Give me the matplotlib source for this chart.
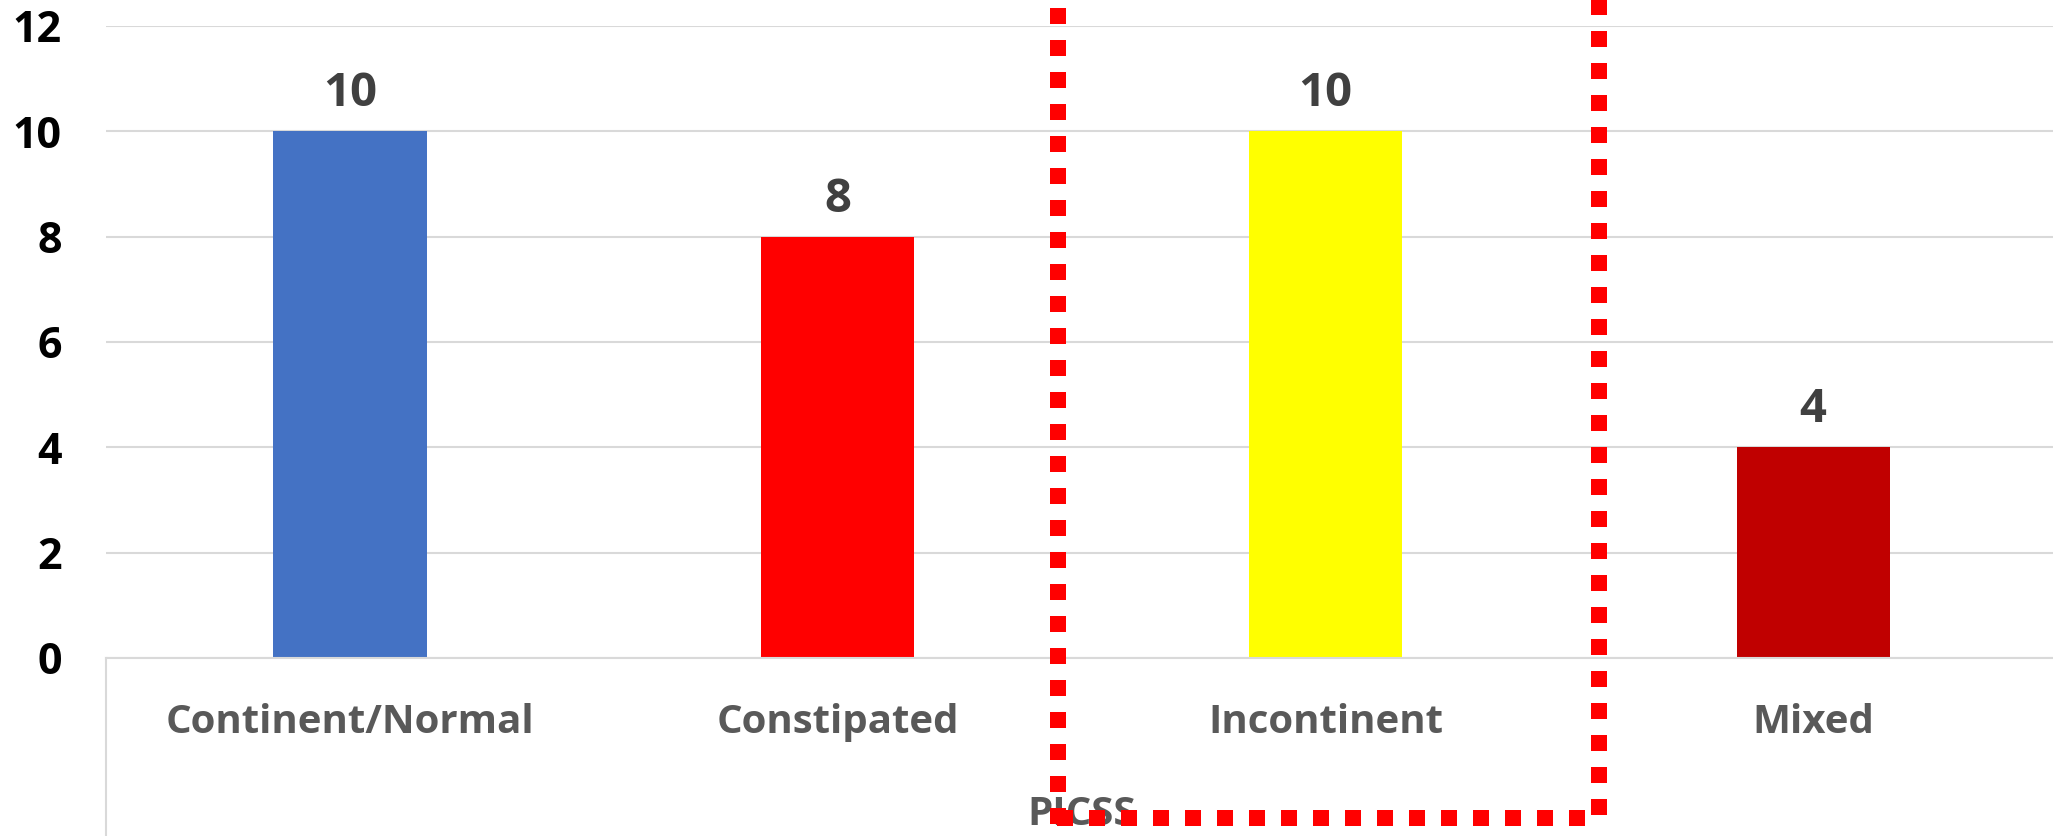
import matplotlib
matplotlib.use("Agg")
import matplotlib.pyplot as plt
from matplotlib.lines import Line2D
from matplotlib.transforms import blended_transform_factory

# Stool pattern counts by PICSS category
categories = ["Continent/Normal", "Constipated", "Incontinent", "Mixed"]
counts = [10, 8, 10, 4]
bar_colors = ["#4472C4", "#FF0000", "#FFFF00", "#C00000"]
y_ticks = [0, 2, 4, 6, 8, 10, 12]
x_title = "PICSS"

FONT = "Open Sans"
W, H, DPI = 2053, 836, 100

plt.rcParams["font.family"] = [FONT, "DejaVu Sans"]
plt.rcParams["lines.scale_dashes"] = False

fig = plt.figure(figsize=(W / DPI, H / DPI), dpi=DPI)
fig.patch.set_facecolor("white")

# plot area in pixels: x 106..2057, y(0)=658, y(12)=26
left_px, right_px, zero_px, top_px = 106.2, 2057.0, 658.0, 26.0
ax = fig.add_axes([left_px / W, (H - zero_px) / H,
                   (right_px - left_px) / W, (zero_px - top_px) / H])

x = list(range(len(categories)))
bars = ax.bar(x, counts, width=0.314, color=bar_colors, zorder=3)

ax.set_xlim(-0.5, len(categories) - 0.5)
ax.set_ylim(0, 12)
ax.set_yticks(y_ticks)
ax.set_yticklabels([str(t) for t in y_ticks], fontsize=31, fontweight="bold",
                   color="black")
ax.tick_params(axis="y", length=0, pad=32)
ax.tick_params(axis="x", length=0, labelbottom=False)

ax.grid(axis="y", color="#D9D9D9", linewidth=1.5, zorder=0)
for s in ax.spines.values():
    s.set_visible(False)
ax.spines["bottom"].set_visible(True)
ax.spines["bottom"].set_color("#D9D9D9")
ax.spines["bottom"].set_linewidth(1.5)
ax.spines["bottom"].set_zorder(4)

# category band border on the left, running below the axis
ax.add_line(Line2D([0, 0], [0, -(H - zero_px) / (zero_px - top_px)],
                   transform=ax.transAxes, color="#D9D9D9", linewidth=1.5,
                   clip_on=False))

# category labels
trans = blended_transform_factory(ax.transData, ax.transAxes)
cat_base = -(733 - zero_px) / (zero_px - top_px)
for xi, name in zip(x, categories):
    ax.text(xi, cat_base, name, transform=trans, ha="center", va="baseline",
            fontsize=29, fontweight="bold", color="#595959")

# axis title
title_base = -(825 - zero_px) / (zero_px - top_px)
ax.text(0.5, title_base, x_title, transform=ax.transAxes, ha="center",
        va="baseline", fontsize=29, fontweight="bold", color="#595959")

# value labels
for b, v in zip(bars, counts):
    ax.annotate(str(v), (b.get_x() + b.get_width() / 2, v),
                xytext=(0, 18), textcoords="offset points", ha="center",
                va="baseline", fontsize=34, fontweight="bold", color="#404040")

# dotted highlight frame around the Incontinent bar
lw_px = 16
lw_pt = lw_px * 72 / DPI
dash = (0, (lw_pt, lw_pt))


def px_line(x0, y0, x1, y1):
    fig.add_artist(Line2D([x0 / W, x1 / W], [(H - y0) / H, (H - y1) / H],
                          transform=fig.transFigure, color="#FF0000",
                          linewidth=lw_pt, linestyle=dash,
                          solid_capstyle="butt", dash_capstyle="butt",
                          zorder=10))


px_line(1060, -6, 1588, -6)     # top
px_line(1599, -1, 1599, 815)    # right
px_line(1057, 818, 1585, 818)   # bottom
px_line(1058, 8, 1058, 824)     # left

fig.savefig("out.png", dpi=DPI, facecolor="white")
